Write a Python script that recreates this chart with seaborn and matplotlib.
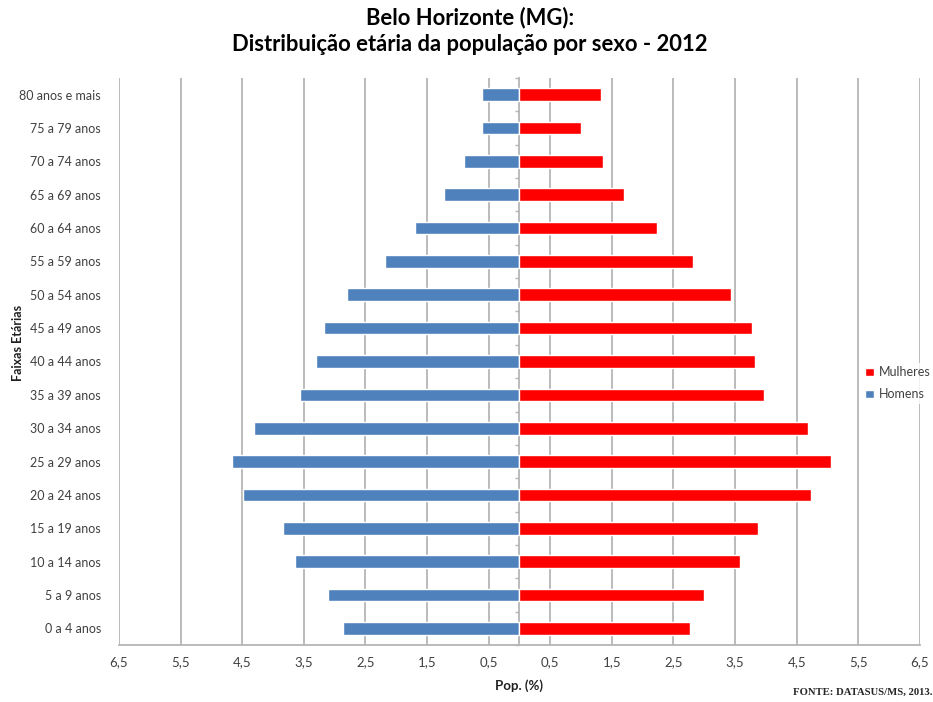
import numpy as np
import pandas as pd
import matplotlib
matplotlib.use("Agg")
import matplotlib.pyplot as plt
from matplotlib.ticker import FixedLocator, FuncFormatter
from matplotlib.patches import Patch
import seaborn as sns

# Age groups, from oldest (top) to youngest (bottom)
faixas = ["80 anos e mais", "75 a 79 anos", "70 a 74 anos", "65 a 69 anos",
          "60 a 64 anos", "55 a 59 anos", "50 a 54 anos", "45 a 49 anos",
          "40 a 44 anos", "35 a 39 anos", "30 a 34 anos", "25 a 29 anos",
          "20 a 24 anos", "15 a 19 anos", "10 a 14 anos", "5 a 9 anos",
          "0 a 4 anos"]

# Share of total population (%) per sex
homens = [0.60, 0.61, 0.90, 1.22, 1.69, 2.19, 2.80, 3.17, 3.31,
          3.56, 4.31, 4.67, 4.48, 3.84, 3.64, 3.11, 2.86]
mulheres = [1.32, 1.00, 1.35, 1.69, 2.24, 2.81, 3.43, 3.78, 3.82,
            3.97, 4.69, 5.06, 4.74, 3.87, 3.58, 3.00, 2.76]

sexos = ["Homens", "Mulheres"]
cores = {"Homens": "#4F81BD", "Mulheres": "#FF0000"}

xticks = [-6.5, -5.5, -4.5, -3.5, -2.5, -1.5, -0.5,
          0.5, 1.5, 2.5, 3.5, 4.5, 5.5, 6.5]

df = pd.concat([
    pd.DataFrame({"faixa": faixas, "pop": [-v for v in homens], "sexo": "Homens"}),
    pd.DataFrame({"faixa": faixas, "pop": mulheres, "sexo": "Mulheres"}),
])

sns.set_style("white")
plt.rcParams["font.family"] = ["Lato", "DejaVu Sans"]

GRID = "#b5b5b5"

fig = plt.figure(figsize=(9.33, 7.02), dpi=100)
ax = fig.add_axes([0.1275, 0.0812, 0.8585, 0.8077])

sns.barplot(data=df, x="pop", y="faixa", hue="sexo", order=faixas,
            hue_order=sexos, palette=cores, dodge=False, width=0.38,
            orient="h", ax=ax, legend=False, saturation=1, zorder=3)

ax.set_xlim(-6.5, 6.5)
ax.set_ylim(len(faixas) - 0.5, -0.5)

# Vertical gridlines at the labelled positions
ax.xaxis.set_major_locator(FixedLocator(xticks))
ax.xaxis.set_minor_locator(FixedLocator(np.arange(-6, 7, 1.0)))
ax.xaxis.set_major_formatter(FuncFormatter(lambda v, p: f"{abs(v):.1f}".replace(".", ",")))
ax.grid(axis="x", which="major", color=GRID, linewidth=1.3, zorder=0)
ax.set_axisbelow(True)

for s in ["top", "right", "left"]:
    ax.spines[s].set_visible(False)
ax.spines["bottom"].set_color(GRID)
ax.spines["bottom"].set_linewidth(1.3)

ax.tick_params(axis="x", which="both", direction="out", color=GRID,
               length=4, width=1, labelsize=9.5, labelcolor="#404040", pad=4)
ax.tick_params(axis="x", which="minor", length=3)
ax.tick_params(axis="y", which="both", length=0, labelsize=9,
               labelcolor="#404040", pad=13)

# Central axis with short ticks (pointing left) between the age groups
centro = ax.secondary_yaxis(0.5)
centro.set_yticks(np.arange(-0.5, len(faixas), 1.0))
centro.set_yticklabels([])
centro.tick_params(axis="y", which="both", direction="in", length=3,
                   color=GRID, width=1)
for sp in centro.spines.values():
    sp.set_color(GRID)
    sp.set_linewidth(1.3)

ax.set_xlabel("Pop. (%)", fontsize=9.5, fontweight="bold", color="#202020", labelpad=8)
ax.set_ylabel("")
fig.text(0.019, 0.512, "Faixas Etárias", rotation=90, ha="center", va="center",
         fontsize=9, fontweight="bold", color="#202020")

fig.suptitle("Belo Horizonte (MG):\nDistribuição etária da população por sexo - 2012",
             x=0.504, y=0.99, fontsize=15.8, fontweight="bold", color="#000000",
             linespacing=1.3, va="top")

handles = [Patch(facecolor=cores["Mulheres"], label="Mulheres"),
           Patch(facecolor=cores["Homens"], label="Homens")]
leg = fig.legend(handles=handles, loc="center left", bbox_to_anchor=(0.923, 0.454),
                 frameon=True, fontsize=9, handlelength=0.7, handleheight=0.7,
                 handletextpad=0.4, labelspacing=0.8, borderpad=0.3,
                 borderaxespad=0)
leg.get_frame().set_edgecolor("none")
leg.get_frame().set_facecolor("white")
for t in leg.get_texts():
    t.set_color("#404040")

fig.text(0.999, 0.008, "FONTE: DATASUS/MS, 2013.", ha="right", va="bottom",
         fontsize=7.7, fontweight="bold", family=["Liberation Serif", "DejaVu Serif"])

fig.savefig("out.png", dpi=100, facecolor="white")
